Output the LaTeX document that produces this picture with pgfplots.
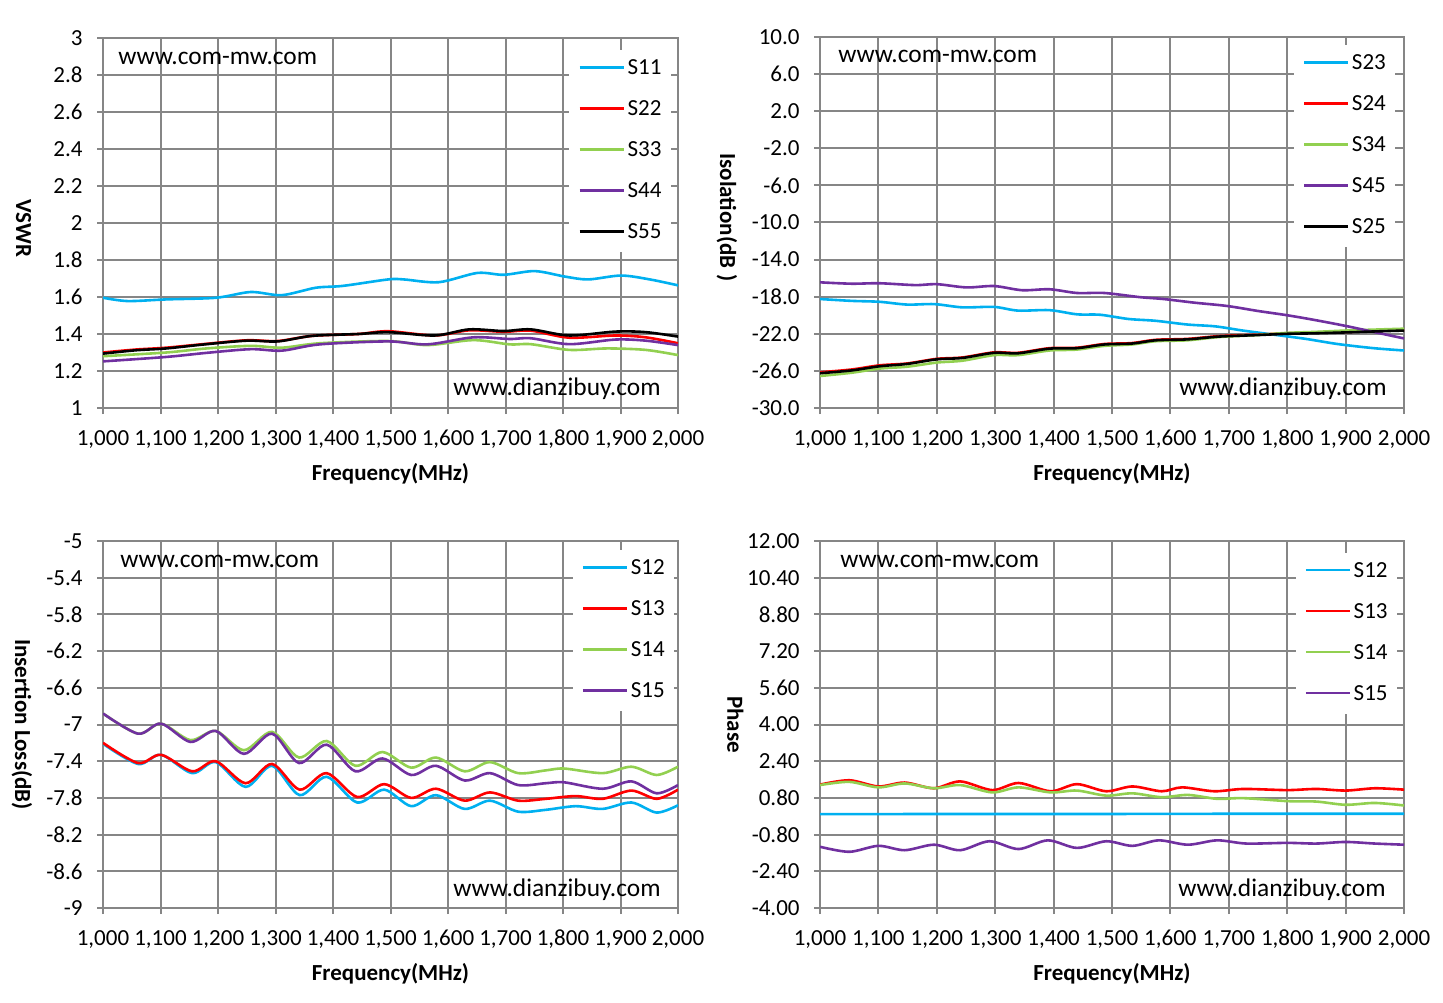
\documentclass[border=0pt]{standalone}
\usepackage{fontspec}
\setmainfont{Carlito}
\usepackage{pgfplots}
\pgfplotsset{compat=1.18}
\definecolor{xblue}{HTML}{00B0F0}
\definecolor{xred}{HTML}{FF0000}
\definecolor{xgreen}{HTML}{92D050}
\definecolor{xpurple}{HTML}{7030A0}
\definecolor{gridgray}{HTML}{868686}
\newcommand{\tfont}{\fontsize{11.5}{13.5}\selectfont}
\newcommand{\wfont}{\fontsize{12.7}{15}\selectfont}
\newcommand{\gfont}{\fontsize{11.5}{13}\selectfont}
\newcommand{\lfont}{\bfseries\fontsize{11.5}{13}\selectfont}
\pgfplotsset{
 panel/.style={
  scale only axis,
  xmin=1000, xmax=2000,
  xtick={1000,1100,1200,1300,1400,1500,1600,1700,1800,1900,2000},
  xticklabels={{1,000},{1,100},{1,200},{1,300},{1,400},{1,500},{1,600},{1,700},{1,800},{1,900},{2,000}},
  grid=major,
  grid style={gridgray, line width=1pt},
  axis line style={gridgray, line width=1pt},
  tick style={gridgray, line width=1pt},
  tick align=outside,
  tick pos=left,
  major tick length=3pt,
  tick label style={font=\tfont, text=black},
  xticklabel style={anchor=base, inner sep=0pt, yshift=-15.5pt},
  yticklabel style={inner sep=0pt, xshift=-7pt},
  every axis x label/.style={at={(axis description cs:0.5,0)}, anchor=center, yshift=-33pt, font=\lfont},
  every axis y label/.style={at={(axis description cs:0,0.5)}, anchor=center, rotate=-90, font=\lfont},
  xlabel={Frequency(MHz)},
  legend cell align=left,
  legend image code/.code={\draw[#1] (0pt,0.8pt) -- (22pt,0.8pt);},
  legend style={draw=none, fill=white, inner sep=4.5pt, anchor=north west, font=\gfont,
    row sep=10.5pt, column sep=1.3pt, nodes={inner sep=0pt, text height=8pt, text depth=2pt}},
  every axis plot/.append style={line width=1.3pt, smooth, no markers},
 }
}
\begin{document}
\begin{tikzpicture}
\path[use as bounding box] (0,0) rectangle (721.5pt,501pt);
% ---------------- Panel 1: VSWR ----------------
\begin{axis}[panel, at={(51.5pt,297pt)}, anchor=south west, width=287.5pt, height=185pt,
  ymin=1, ymax=3,
  ytick={1,1.2,1.4,1.6,1.8,2,2.2,2.4,2.6,2.8,3},
  yticklabels={1,1.2,1.4,1.6,1.8,2,2.2,2.4,2.6,2.8,3},
  ylabel={VSWR}, ylabel style={yshift=-39.75pt, xshift=2.75pt},
  legend style={at={(rel axis cs:0.8105,0.969)}}]
\addplot[xblue] coordinates {(1000,1.596) (1043,1.578) (1110,1.587) (1197,1.596) (1257,1.627) (1311,1.610) (1370,1.650) (1417,1.660) (1496,1.695) (1523,1.695) (1584,1.680) (1651,1.730) (1697,1.720) (1751,1.740) (1804,1.710) (1844,1.695) (1901,1.716) (1951,1.695) (2000,1.663)};
\addplot[xred] coordinates {(1000,1.300) (1057,1.316) (1110,1.326) (1177,1.346) (1250,1.366) (1304,1.362) (1364,1.390) (1444,1.400) (1496,1.415) (1577,1.392) (1637,1.420) (1697,1.412) (1744,1.418) (1811,1.380) (1891,1.392) (1944,1.382) (2000,1.350)};
\addplot[xgreen] coordinates {(1000,1.280) (1110,1.300) (1180,1.322) (1257,1.336) (1311,1.326) (1377,1.350) (1496,1.362) (1564,1.340) (1644,1.367) (1707,1.344) (1744,1.345) (1811,1.314) (1877,1.322) (1944,1.314) (2000,1.286)};
\addplot[xpurple] coordinates {(1000,1.252) (1110,1.276) (1180,1.298) (1257,1.318) (1311,1.310) (1377,1.344) (1496,1.360) (1564,1.344) (1644,1.382) (1707,1.373) (1744,1.377) (1811,1.345) (1891,1.370) (1944,1.364) (2000,1.340)};
\addplot[black] coordinates {(1000,1.294) (1057,1.312) (1110,1.322) (1177,1.344) (1250,1.364) (1304,1.360) (1364,1.390) (1444,1.400) (1496,1.410) (1577,1.392) (1637,1.425) (1697,1.416) (1744,1.425) (1811,1.392) (1891,1.413) (1944,1.410) (2000,1.386)};
\legend{S11,S22,S33,S44,S55}
\node[anchor=base west, inner sep=0pt, font=\wfont] at (rel axis cs:0,1) [xshift=7.5pt, yshift=-13.25pt] {www.com-mw.com};
\node[anchor=base east, inner sep=0pt, font=\wfont] at (rel axis cs:1,0) [xshift=-8.5pt, yshift=6pt] {www.dianzibuy.com};
\end{axis}
% ---------------- Panel 2: Isolation ----------------
\begin{axis}[panel, at={(410pt,297pt)}, anchor=south west, width=292pt, height=185.5pt,
  ymin=-30, ymax=10,
  ytick={-30,-26,-22,-18,-14,-10,-6,-2,2,6,10},
  yticklabels={-30.0,-26.0,-22.0,-18.0,-14.0,-10.0,-6.0,-2.0,2.0,6.0,10.0},
  ylabel={Isolation(dB\hspace{3pt})}, ylabel style={yshift=-46.5pt, xshift=-2.5pt},
  legend style={at={(rel axis cs:0.8105,0.98)}}]
\addplot[xblue] coordinates {(1000,-18.25) (1054,-18.45) (1102,-18.55) (1149,-18.85) (1196,-18.80) (1244,-19.15) (1298,-19.10) (1339,-19.50) (1393,-19.45) (1440,-19.90) (1480,-19.95) (1528,-20.40) (1575,-20.60) (1629,-21.00) (1677,-21.20) (1724,-21.65) (1778,-22.10) (1832,-22.55) (1886,-23.10) (1948,-23.55) (2000,-23.80)};
\addplot[xred] coordinates {(1000,-26.15) (1054,-25.85) (1102,-25.40) (1149,-25.20) (1200,-24.70) (1244,-24.55) (1298,-24.00) (1339,-24.05) (1393,-23.55) (1440,-23.50) (1487,-23.10) (1534,-23.00) (1575,-22.65) (1629,-22.55) (1683,-22.25) (1744,-22.10) (1800,-21.95) (1846,-21.85) (1900,-21.80) (1948,-21.70) (2000,-21.60)};
\addplot[xgreen] coordinates {(1000,-26.55) (1054,-26.20) (1102,-25.75) (1149,-25.55) (1200,-25.10) (1244,-24.90) (1298,-24.30) (1339,-24.30) (1393,-23.80) (1440,-23.70) (1487,-23.30) (1534,-23.15) (1575,-22.80) (1629,-22.70) (1683,-22.35) (1744,-22.15) (1800,-21.90) (1846,-21.80) (1900,-21.65) (1948,-21.55) (2000,-21.45)};
\addplot[xpurple] coordinates {(1000,-16.45) (1054,-16.60) (1102,-16.55) (1163,-16.75) (1200,-16.65) (1251,-17.00) (1298,-16.85) (1346,-17.30) (1393,-17.20) (1440,-17.60) (1487,-17.60) (1548,-18.05) (1588,-18.25) (1642,-18.65) (1697,-19.00) (1751,-19.55) (1800,-20.00) (1846,-20.50) (1900,-21.15) (1948,-21.80) (2000,-22.50)};
\addplot[black] coordinates {(1000,-26.25) (1054,-25.95) (1102,-25.50) (1149,-25.25) (1200,-24.75) (1244,-24.60) (1298,-24.05) (1339,-24.10) (1393,-23.60) (1440,-23.55) (1487,-23.15) (1534,-23.05) (1575,-22.70) (1629,-22.60) (1683,-22.30) (1744,-22.15) (1800,-22.00) (1846,-21.95) (1900,-21.85) (1948,-21.75) (2000,-21.65)};
\legend{S23,S24,S34,S45,S25}
\node[anchor=base west, inner sep=0pt, font=\wfont] at (rel axis cs:0,1) [xshift=9pt, yshift=-13pt] {www.com-mw.com};
\node[anchor=base east, inner sep=0pt, font=\wfont] at (rel axis cs:1,0) [xshift=-8.5pt, yshift=6pt] {www.dianzibuy.com};
\end{axis}
% ---------------- Panel 3: Insertion loss ----------------
\begin{axis}[panel, at={(51.5pt,47pt)}, anchor=south west, width=287.5pt, height=183.5pt,
  ymin=-9, ymax=-5,
  ytick={-9,-8.6,-8.2,-7.8,-7.4,-7,-6.6,-6.2,-5.8,-5.4,-5},
  yticklabels={-9,-8.6,-8.2,-7.8,-7.4,-7,-6.6,-6.2,-5.8,-5.4,-5},
  ylabel={Insertion Loss(dB)}, ylabel style={yshift=-40.5pt},
  legend style={at={(rel axis cs:0.816,0.977)}}]
\addplot[xblue] coordinates {(1000,-7.21) (1061,-7.43) (1101,-7.33) (1155,-7.53) (1196,-7.41) (1248,-7.68) (1294,-7.45) (1342,-7.77) (1389,-7.57) (1442,-7.85) (1489,-7.71) (1536,-7.89) (1579,-7.77) (1629,-7.92) (1673,-7.83) (1722,-7.95) (1770,-7.93) (1822,-7.89) (1869,-7.92) (1919,-7.85) (1963,-7.96) (2000,-7.88)};
\addplot[xred] coordinates {(1000,-7.20) (1061,-7.42) (1101,-7.33) (1155,-7.51) (1196,-7.40) (1248,-7.64) (1294,-7.43) (1342,-7.71) (1389,-7.53) (1442,-7.79) (1489,-7.65) (1536,-7.80) (1579,-7.70) (1629,-7.83) (1673,-7.74) (1722,-7.83) (1770,-7.81) (1822,-7.78) (1869,-7.81) (1919,-7.72) (1963,-7.81) (2000,-7.71)};
\addplot[xgreen] coordinates {(1000,-6.88) (1061,-7.10) (1101,-6.99) (1152,-7.17) (1196,-7.07) (1245,-7.28) (1294,-7.08) (1341,-7.36) (1389,-7.18) (1439,-7.45) (1486,-7.30) (1536,-7.47) (1579,-7.36) (1629,-7.51) (1673,-7.41) (1722,-7.53) (1770,-7.50) (1802,-7.48) (1869,-7.53) (1919,-7.46) (1963,-7.55) (2000,-7.46)};
\addplot[xpurple] coordinates {(1000,-6.88) (1061,-7.10) (1101,-6.99) (1152,-7.19) (1196,-7.07) (1245,-7.32) (1294,-7.10) (1341,-7.42) (1389,-7.22) (1439,-7.51) (1486,-7.37) (1536,-7.55) (1579,-7.45) (1629,-7.61) (1673,-7.53) (1722,-7.66) (1770,-7.64) (1802,-7.63) (1869,-7.70) (1919,-7.62) (1963,-7.75) (2000,-7.66)};
\legend{S12,S13,S14,S15}
\node[anchor=base west, inner sep=0pt, font=\wfont] at (rel axis cs:0,1) [xshift=8.5pt, yshift=-13pt] {www.com-mw.com};
\node[anchor=base east, inner sep=0pt, font=\wfont] at (rel axis cs:1,0) [xshift=-8.5pt, yshift=6pt] {www.dianzibuy.com};
\end{axis}
% ---------------- Panel 4: Phase ----------------
\begin{axis}[panel, at={(410pt,47pt)}, anchor=south west, width=292pt, height=183.5pt,
  ymin=-4, ymax=12,
  ytick={-4,-2.4,-0.8,0.8,2.4,4,5.6,7.2,8.8,10.4,12},
  yticklabels={-4.00,-2.40,-0.80,0.80,2.40,4.00,5.60,7.20,8.80,10.40,12.00},
  ylabel={Phase}, ylabel style={yshift=-42.3pt},
  legend style={at={(rel axis cs:0.8135,0.969)}}]
\addplot[xblue] coordinates {(1000,0.09) (1250,0.10) (1500,0.10) (1750,0.11) (2000,0.11)};
\addplot[xred] coordinates {(1000,1.38) (1050,1.57) (1100,1.30) (1145,1.47) (1195,1.22) (1240,1.52) (1295,1.14) (1340,1.45) (1395,1.09) (1440,1.40) (1490,1.09) (1535,1.30) (1585,1.09) (1620,1.26) (1675,1.09) (1725,1.19) (1800,1.14) (1850,1.19) (1900,1.12) (1950,1.22) (2000,1.16)};
\addplot[xgreen] coordinates {(1000,1.36) (1050,1.50) (1100,1.26) (1145,1.43) (1195,1.22) (1240,1.36) (1295,1.04) (1340,1.26) (1395,1.04) (1440,1.12) (1490,0.90) (1535,1.00) (1585,0.83) (1630,0.93) (1680,0.76) (1725,0.79) (1800,0.66) (1850,0.64) (1900,0.50) (1950,0.58) (2000,0.47)};
\addplot[xpurple] coordinates {(1000,-1.33) (1050,-1.55) (1100,-1.29) (1145,-1.48) (1195,-1.24) (1240,-1.48) (1290,-1.09) (1340,-1.43) (1390,-1.05) (1440,-1.38) (1490,-1.09) (1535,-1.29) (1580,-1.05) (1630,-1.24) (1680,-1.05) (1730,-1.19) (1800,-1.16) (1850,-1.19) (1900,-1.12) (1950,-1.19) (2000,-1.24)};
\legend{S12,S13,S14,S15}
\node[anchor=base west, inner sep=0pt, font=\wfont] at (rel axis cs:0,1) [xshift=10pt, yshift=-13pt] {www.com-mw.com};
\node[anchor=base east, inner sep=0pt, font=\wfont] at (rel axis cs:1,0) [xshift=-9pt, yshift=6pt] {www.dianzibuy.com};
\end{axis}
\end{tikzpicture}
\end{document}
